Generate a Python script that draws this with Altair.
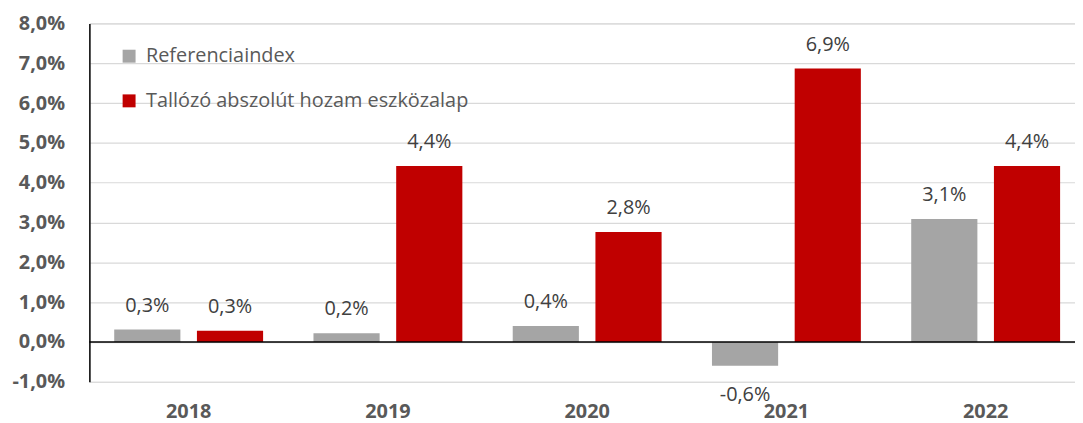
import altair as alt
import pandas as pd

years = ["2018", "2019", "2020", "2021", "2022"]
series = ["Referenciaindex", "Tallózó abszolút hozam eszközalap"]
ref_values = [0.31, 0.22, 0.40, -0.60, 3.09]
fund_values = [0.28, 4.42, 2.76, 6.87, 4.42]
y_ticks = [-1, 0, 1, 2, 3, 4, 5, 6, 7, 8]
colors = ["#A5A5A5", "#C00000"]

rows = []
for i, y in enumerate(years):
    rows.append({"year": y, "series": series[0], "value": ref_values[i]})
    rows.append({"year": y, "series": series[1], "value": fund_values[i]})
df = pd.DataFrame(rows)

FONT = "Open Sans"
FMT = "replace(replace(format(datum.value, '.1f'), '.', ','), '\u2212', '-') + '%'"

x = alt.X("year:N", title=None,
          scale=alt.Scale(paddingInner=0.2528, paddingOuter=0.0997, align=0.625),
          axis=alt.Axis(domain=False, ticks=False, labelFontSize=20, labelFontWeight="bold",
                        labelColor="#595959", labelPadding=20, labelAngle=0, labelFont=FONT))
xoff = alt.XOffset("series:N", sort=series, scale=alt.Scale(paddingInner=0.2, paddingOuter=0))
y = alt.Y("value:Q", title=None,
          scale=alt.Scale(domain=[-1, 8], nice=False, zero=False),
          axis=alt.Axis(values=y_ticks, labelExpr=FMT,
                        domain=True, domainColor="#000000", domainWidth=1.5, ticks=False,
                        grid=True, gridColor="#D9D9D9", gridWidth=1.2,
                        labelFontSize=20, labelFontWeight="bold", labelColor="#595959",
                        labelPadding=25, labelFont=FONT))

color = alt.Color("series:N", sort=series,
                  scale=alt.Scale(domain=series, range=colors),
                  legend=alt.Legend(title=None, orient="none", legendX=30, legendY=23,
                                    symbolType="square", symbolSize=170, symbolStrokeWidth=0,
                                    labelFontSize=20, labelColor="#595959", labelFont=FONT,
                                    rowPadding=25, labelOffset=7, labelLimit=0))

base = alt.Chart(df)

bars = base.mark_bar().encode(x=x, xOffset=xoff, y=y, color=color)

zero = alt.Chart(pd.DataFrame({"z": [0]})).mark_rule(color="#000000", strokeWidth=1.5).encode(y="z:Q")

label_text = alt.Text("lbl:N")
pos = base.transform_filter("datum.value >= 0").transform_calculate(
    lbl=FMT
).mark_text(baseline="alphabetic", dy=-18, fontSize=20, color="#404040", font=FONT).encode(
    x=x, xOffset=xoff, y=y, text=label_text)
neg = base.transform_filter("datum.value < 0").transform_calculate(
    lbl=FMT
).mark_text(baseline="alphabetic", dy=35, fontSize=20, color="#404040", font=FONT).encode(
    x=x, xOffset=xoff, y=y, text=label_text)

chart = alt.layer(bars, zero, pos, neg).properties(
    width=993, height=361,
    autosize=alt.AutoSizeParams(type="none"),
    padding={"left": 82, "top": 14, "right": 0, "bottom": 40},
).configure_view(stroke=None).configure(font=FONT)

chart.save("out.html", embed_options={"renderer": "svg", "actions": False})
